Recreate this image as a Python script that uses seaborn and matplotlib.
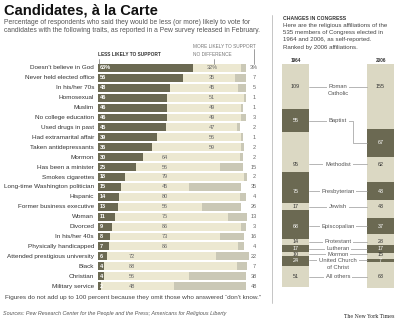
import numpy as np
import pandas as pd
import matplotlib
matplotlib.use("Agg")
import matplotlib.pyplot as plt
from matplotlib.lines import Line2D
import seaborn as sns

# ---- Pew survey: likelihood to support a candidate with each trait (%) ----
traits = [
    "Doesn't believe in God", "Never held elected office", "In his/her 70s",
    "Homosexual", "Muslim", "No college education", "Used drugs in past",
    "Had extramarital affair", "Taken antidepressants", "Mormon",
    "Has been a minister", "Smokes cigarettes", "Long-time Washington politician",
    "Hispanic", "Former business executive", "Woman", "Divorced",
    "In his/her 40s", "Physically handicapped", "Attended prestigious university",
    "Black", "Christian", "Military service",
]
less_likely = [63, 56, 48, 46, 46, 46, 45, 39, 36, 30, 25, 18, 15, 14, 13, 11, 9, 8, 7, 6, 4, 4, 2]
no_difference = [32, 35, 45, 51, 49, 49, 47, 56, 59, 64, 56, 79, 45, 80, 56, 75, 86, 73, 86, 72, 88, 56, 48]
more_likely = [3, 7, 5, 1, 1, 3, 2, 1, 2, 2, 15, 2, 35, 4, 26, 13, 3, 16, 4, 22, 7, 38, 48]

# ---- Religious affiliations of members of Congress ----
religions = ["Roman\nCatholic", "Baptist", "Methodist", "Presbyterian", "Jewish",
             "Episcopalian", "Protestant", "Lutheran", "Mormon",
             "United Church\nof Christ", "All others"]
members_1964 = [109, 55, 95, 75, 17, 68, 14, 17, 10, 24, 51]
members_2006 = [155, 67, 62, 43, 43, 37, 28, 17, 15, 7, 63]
years = ["1964", "2006"]

DARK = "#6b6952"
LIGHT = "#ece8d1"
GRAY = "#cac8b6"
COL_LIGHT = "#dbd8c3"
TXT = "#333333"
MUTED = "#666666"

sns.set_theme(style="white")
plt.rcParams["font.family"] = ["Liberation Sans", "DejaVu Sans"]

W, H = 400, 322
fig = plt.figure(figsize=(W / 100, H / 100), dpi=100)
fig.patch.set_facecolor("white")


def fx(x):
    return x / W


def fy(y):
    return 1 - y / H


def ftext(x, y, s, **kw):
    kw.setdefault("va", "center")
    fig.text(fx(x), fy(y), s, **kw)


def fline(x0, y0, x1, y1, color="#999999", lw=0.5):
    fig.add_artist(Line2D([fx(x0), fx(x1)], [fy(y0), fy(y1)],
                          transform=fig.transFigure, color=color, lw=lw))


# ---------------- headline block ----------------
ftext(4, 10.5, "Candidates, à la Carte", fontsize=10.6, fontweight="bold", color="#111111")
ftext(4, 22, "Percentage of respondents who said they would be less (or more) likely to vote for",
      fontsize=4.9, color="#555555")
ftext(4, 30.5, "candidates with the following traits, as reported in a Pew survey released in February.",
      fontsize=4.9, color="#555555")

# ---------------- left panel: stacked horizontal bars ----------------
df = pd.DataFrame({"trait": traits, "less": less_likely,
                   "nodiff": no_difference, "more": more_likely})
df["thru_nodiff"] = df["less"] + df["nodiff"]
df["total"] = df["thru_nodiff"] + df["more"]
n = len(df)

ax1 = fig.add_axes([fx(98), fy(291), fx(151), 228 / H])
for col, colr in [("total", GRAY), ("thru_nodiff", LIGHT), ("less", DARK)]:
    sns.barplot(data=df, x=col, y="trait", orient="h", color=colr, saturation=1,
                width=0.8, linewidth=0, ax=ax1)
ax1.set_xlim(0, 100)
ax1.set_ylim(n - 0.5, -0.5)
ax1.axis("off")

for i, row in df.iterrows():
    ax1.text(-2.6, i, row["trait"], ha="right", va="center", fontsize=4.6, color=TXT)
    suffix = "%" if i == 0 else ""
    ax1.text(1.3, i, f"{row['less']}{suffix}", ha="left", va="center",
             fontsize=4.0, color="white", fontweight="bold")
    # "no difference" figures sit in three aligned columns
    if row["less"] >= 35:
        mx = 75.5
    elif row["less"] >= 7:
        mx = 44.5
    else:
        mx = 22.5
    ax1.text(mx, i, f"{row['nodiff']}{suffix}", ha="center", va="center",
             fontsize=4.0, color=MUTED)
    ax1.text(103.3, i, f"{row['more']}{suffix}", ha="center", va="center",
             fontsize=4.0, color=MUTED)

# column headers with leader ticks
ftext(98, 55, "LESS LIKELY TO SUPPORT", fontsize=3.4, fontweight="bold", color=TXT)
ftext(193, 55, "NO DIFFERENCE", fontsize=3.4, color="#777777")
ftext(193, 46, "MORE LIKELY TO SUPPORT", fontsize=3.4, color="#777777")
fline(98.5, 58.5, 98.5, 63.5, color="#777777")
fline(214, 58.5, 214, 63.5, color="#777777")
fline(254, 49, 254, 63.5, color="#777777")

ftext(5, 298, "Figures do not add up to 100 percent because they omit those who answered \u201cdon't know.\u201d",
      fontsize=4.6, color="#444444")
ftext(3, 314, "Sources: Pew Research Center for the People and the Press; Americans for Religious Liberty",
      fontsize=3.9, color="#555555", style="italic")
ftext(394, 317, "The New York Times", fontsize=3.4, color="#222222", ha="right",
      family=["DejaVu Serif"])

# separator between panels
fline(272, 15, 272, 303, color="#bbbbbb", lw=0.6)

# ---------------- right panel: Congress columns ----------------
ftext(283, 18, "CHANGES IN CONGRESS", fontsize=3.7, fontweight="bold", color=TXT)
for k, s in enumerate(["Here are the religious affiliations of the",
                       "535 members of Congress elected in",
                       "1964 and 2006, as self-reported.",
                       "Ranked by 2006 affiliations."]):
    ftext(283, 25 + 7.4 * k, s, fontsize=4.45, color="#444444")
ftext(296, 60, "1964", fontsize=3.3, fontweight="bold", color=TXT, ha="center")
ftext(381, 60, "2006", fontsize=3.3, fontweight="bold", color=TXT, ha="center")

m64 = np.array(members_1964)
m06 = np.array(members_2006)
end64, end06 = np.cumsum(m64), np.cumsum(m06)
start64, start06 = end64 - m64, end06 - m06
colors = [COL_LIGHT if k % 2 == 0 else DARK for k in range(len(religions))]

long = pd.DataFrame({
    "religion": np.repeat(religions, 2),
    "year": years * len(religions),
    "cum": np.column_stack([end64, end06]).ravel(),
})

ax2 = fig.add_axes([fx(282), fy(288), fx(112), 224 / H])
for k in range(len(religions) - 1, -1, -1):
    sub = long[long["religion"] == religions[k]]
    sns.barplot(data=sub, x="year", y="cum", order=years, color=colors[k],
                saturation=1, width=0.316, linewidth=0, ax=ax2)
top = max(end64[-1], end06[-1])
ax2.set_xlim(-0.158, 1.158)
ax2.set_ylim(top, 0)
ax2.axis("off")

half = 0.158
line_h = 7 * top / 224  # one text line, in member units
for k, name in enumerate(religions):
    lo = max(start64[k], start06[k])
    hi = min(end64[k], end06[k])
    if hi - lo >= 0.4 * min(m64[k], m06[k]):
        y1 = y2 = (lo + hi) / 2
        ax2.plot([half, 1 - half], [y1, y1], color="#999999", lw=0.5)
    else:
        y1 = (start64[k] + end64[k]) / 2
        y2 = (start06[k] + end06[k]) / 2
        xe = 0.672
        ax2.plot([half, xe, xe, 1 - half], [y1, y1, y2, y2], color="#999999", lw=0.5)
    lines = name.split("\n")
    ax2.text(0.5, y1, lines[0], ha="center", va="center", fontsize=4.2, color="#555555",
             bbox=dict(facecolor="white", edgecolor="none", pad=1.2))
    for j, extra in enumerate(lines[1:], start=1):
        ax2.text(0.5, y1 + j * line_h, extra, ha="center", va="center",
                 fontsize=4.2, color="#555555")
    tc = "white" if colors[k] == DARK else TXT
    ax2.text(0, y1, str(m64[k]), ha="center", va="center", fontsize=3.9, color=tc)
    ax2.text(1, y2, str(m06[k]), ha="center", va="center", fontsize=3.9, color=tc)

fig.savefig("out.png", dpi=100, facecolor="white")
